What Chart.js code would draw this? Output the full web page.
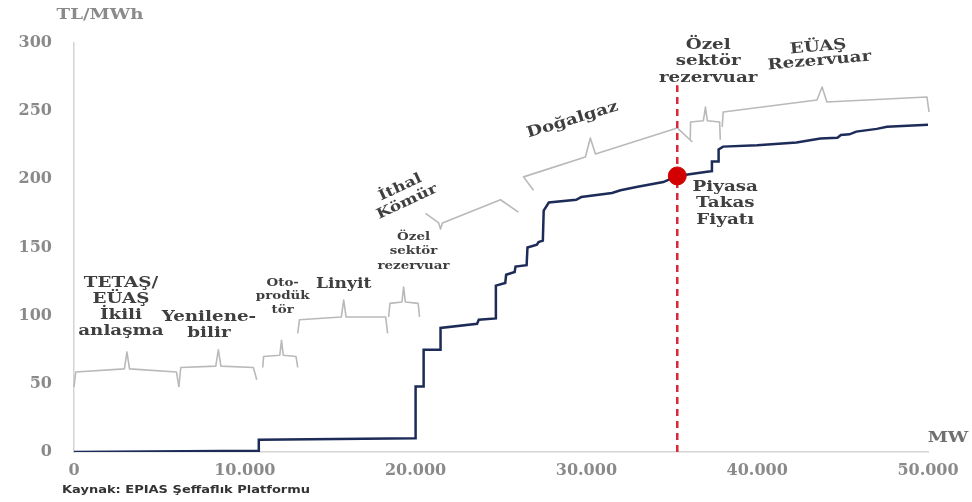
<!DOCTYPE html>
<html>
<head>
<meta charset="utf-8">
<script src="https://cdn.jsdelivr.net/npm/chart.js@4.4.1/dist/chart.umd.min.js"></script>
<style>
  html, body { margin: 0; padding: 0; background: #fff; }
  #wrap { width: 972px; height: 502px; }
</style>
</head>
<body>
<div id="wrap"><canvas id="c"></canvas></div>
<script>
// arz egrisi (merit order) - MW ve TL/MWh
const mw = [0, 10820, 10820, 20000, 20000, 20470, 20470, 21460, 21460, 23600, 23700, 24700, 24700,
  25250, 25300, 25800, 25850, 26500, 26550, 27100, 27200, 27450, 27500, 27800, 29400, 29700,
  31500, 32000, 33000, 34500, 35320, 37060, 37350, 37350, 37740, 37740, 38000, 40000, 42300,
  43700, 44700, 44900, 45400, 45800, 47000, 47600, 50000];
const price = [0, 1, 9, 10, 48, 48, 75, 75, 91, 94, 97, 98, 122,
  124, 130, 132, 136, 137, 150, 152, 154, 155, 177, 183, 185, 187,
  190, 192, 194.5, 198, 202.5, 205.5, 206, 213, 213, 222, 224, 225, 227,
  230, 230.5, 232.5, 233, 235, 237, 238.5, 240];

const xTicks = [0, 10000, 20000, 30000, 40000, 50000];
const yTicks = [0, 50, 100, 150, 200, 250, 300];

// piyasa takas fiyati
const clearingMW = 35320;
const clearingPrice = 202.5;
const dashTop = 269;

// suslu parantezler (MW, TL/MWh)
const braces = [
  [[0, 47.7], [100, 58.7], [2950, 61], [3100, 73.4], [3250, 61], [6000, 58.7], [6140, 47.7]],
  [[6140, 47.7], [6250, 62], [8300, 63], [8450, 75], [8600, 63], [10500, 62], [10700, 53]],
  [[11050, 62], [11100, 70], [12050, 71], [12150, 82], [12250, 71], [13000, 70], [13100, 62]],
  [[13100, 87], [13200, 97], [15650, 99], [15790, 111.5], [15930, 99], [18250, 99], [18360, 87]],
  [[18420, 99], [18500, 109], [19200, 110], [19300, 121], [19400, 110], [20150, 109], [20230, 99]],
  [[20580, 175], [21350, 168], [21460, 163.5], [21570, 168], [24970, 185], [26020, 176]],
  [[26900, 192], [26320, 201.8], [29940, 216.4], [30230, 230.3], [30530, 218.6], [35320, 237.7], [36200, 227.4]],
  [[36080, 229], [36100, 242], [36850, 243], [36970, 253], [37080, 243], [37800, 242], [37840, 229]],
  [[37950, 238.5], [38010, 249.4], [43500, 258.2], [43800, 267.7], [44080, 256.7], [49940, 260.4], [50060, 249.4]]
];

// etiketler: konum (MW, TL/MWh), satirlar, aci, yazi boyu
const labels = [
  { at: [2750, 124], lines: ['TETAŞ/', 'EÜAŞ', 'İkili', 'anlaşma'], rot: 0, size: 15, gap: 16 },
  { at: [7900, 99], lines: ['Yenilene-', 'bilir'], rot: 0, size: 15, gap: 16 },
  { at: [12220, 124], lines: ['Oto-', 'prodük', 'tör'], rot: 0, size: 11, gap: 13.5 },
  { at: [15790, 123], lines: ['Linyit'], rot: 0, size: 14, gap: 16 },
  { at: [19880, 157.7], lines: ['Özel', 'sektör', 'rezervuar'], rot: 0, size: 11, gap: 14.5 },
  { at: [19100, 194], lines: ['İthal', 'Kömür'], rot: -25, size: 14, gap: 16 },
  { at: [29180, 243.5], lines: ['Doğalgaz'], rot: -17, size: 15, gap: 16 },
  { at: [37130, 298.5], lines: ['Özel', 'sektör', 'rezervuar'], rot: 0, size: 15, gap: 16.5 },
  { at: [43570, 297], lines: ['EÜAŞ', 'Rezervuar'], rot: -5, size: 15, gap: 14 },
  { at: [38130, 194.4], lines: ['Piyasa', 'Takas', 'Fiyatı'], rot: 0, size: 15, gap: 16.5 }
];

// yazilar biraz genis gorunuyor, yatayda esnetiyoruz
function wideText(ctx, text, x, y, sx) {
  ctx.save();
  ctx.translate(x, y);
  ctx.scale(sx, 1);
  ctx.fillText(text, 0, 0);
  ctx.restore();
}

const annot = {
  id: 'annot',
  beforeDatasetsDraw(chart) {
    const { ctx, scales: { x, y } } = chart;
    ctx.save();
    ctx.strokeStyle = '#b9b9b9';
    ctx.lineWidth = 1.6;
    ctx.lineJoin = 'round';
    braces.forEach(b => {
      ctx.beginPath();
      b.forEach((p, i) => {
        const px = x.getPixelForValue(p[0]), py = y.getPixelForValue(p[1]);
        if (i === 0) ctx.moveTo(px, py); else ctx.lineTo(px, py);
      });
      ctx.stroke();
    });
    ctx.restore();
  },
  afterDraw(chart) {
    const { ctx, scales: { x, y } } = chart;
    ctx.save();
    ctx.textAlign = 'center';
    ctx.textBaseline = 'middle';
    labels.forEach(l => {
      ctx.save();
      ctx.translate(x.getPixelForValue(l.at[0]), y.getPixelForValue(l.at[1]));
      ctx.rotate(l.rot * Math.PI / 180);
      ctx.font = 'bold ' + l.size + 'px "DejaVu Serif"';
      ctx.fillStyle = '#3f3f3f';
      l.lines.forEach((t, i) => wideText(ctx, t, 0, i * l.gap, 1.22));
      ctx.restore();
    });
    ctx.font = 'bold 14px "DejaVu Serif"';
    ctx.fillStyle = '#8a8a8a';
    wideText(ctx, 'TL/MWh', 100, 15, 1.3);
    ctx.fillStyle = '#707070';
    wideText(ctx, 'MW', 948, 438, 1.3);
    ctx.textAlign = 'left';
    ctx.font = 'bold 10px "DejaVu Sans"';
    ctx.fillStyle = '#333';
    wideText(ctx, 'Kaynak: EPIAS Şeffaflık Platformu', 62, 490, 1.3);
    ctx.restore();
  }
};

new Chart(document.getElementById('c'), {
  type: 'line',
  data: {
    datasets: [
      {
        data: [{ x: clearingMW, y: clearingPrice }],
        pointRadius: 9,
        pointBackgroundColor: '#d20000',
        pointBorderColor: '#d20000',
        showLine: false
      },
      {
        data: [{ x: clearingMW, y: 0 }, { x: clearingMW, y: dashTop }],
        borderColor: '#d9263a',
        borderWidth: 2.5,
        borderDash: [7, 5],
        pointRadius: 0
      },
      {
        data: mw.map((v, i) => ({ x: v, y: price[i] })),
        borderColor: '#1d2b58',
        borderWidth: 2.5,
        pointRadius: 0,
        tension: 0
      }
    ]
  },
  options: {
    responsive: true,
    maintainAspectRatio: false,
    animation: false,
    layout: { padding: { top: 43, right: 44, left: 0, bottom: 0 } },
    plugins: { legend: { display: false }, tooltip: { enabled: false } },
    scales: {
      x: {
        type: 'linear',
        min: 0, max: 50000,
        afterBuildTicks: s => { s.ticks = xTicks.map(v => ({ value: v })); },
        afterFit: s => { s.height = 50; },
        grid: { display: false, drawTicks: false },
        border: { display: true, color: '#d4d4d4', width: 1.5 },
        ticks: {
          padding: 9,
          color: '#8a8a8a',
          font: { family: 'DejaVu Serif', weight: 'bold', size: 16 },
          callback: v => v.toLocaleString('tr-TR')
        }
      },
      y: {
        min: 0, max: 300,
        afterBuildTicks: s => { s.ticks = yTicks.map(v => ({ value: v })); },
        afterFit: s => { s.width = 74; },
        grid: { display: false, drawTicks: false },
        border: { display: true, color: '#d4d4d4', width: 1.5 },
        ticks: {
          padding: 22,
          color: '#8a8a8a',
          font: { family: 'DejaVu Serif', weight: 'bold', size: 16 }
        }
      }
    }
  },
  plugins: [annot]
});
</script>
</body>
</html>
